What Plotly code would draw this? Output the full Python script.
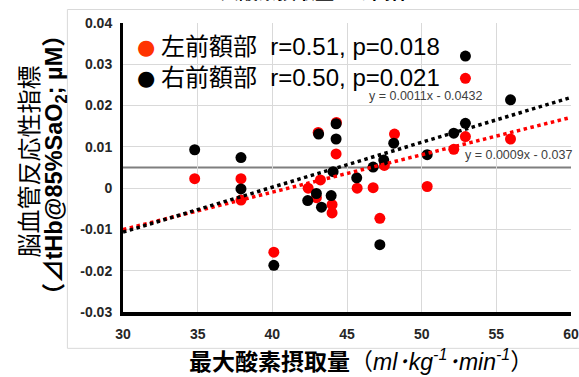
import numpy as np
import plotly.graph_objects as go

# ---- data ----
x_left = [34.8, 37.9, 37.9, 40.1, 42.4, 42.95, 43.07, 43.22, 44.0, 44.0, 44.27,
          44.29, 45.68, 46.75, 47.2, 47.5, 48.18, 50.37, 52.15, 52.93, 52.93, 55.95]
y_left = [0.0023, 0.0023, -0.0029, -0.0155, 0.0, -0.0023, 0.0135, 0.0020, -0.0040,
          -0.0060, 0.0083, 0.0159, 0.0, 0.0001, -0.0073, 0.0055, 0.0131, 0.0004,
          0.0094, 0.0125, 0.0266, 0.0119]

x_right = [34.8, 37.9, 37.9, 40.1, 42.37, 42.95, 43.1, 43.29, 43.94, 44.07, 44.27,
           44.27, 45.65, 46.75, 47.2, 47.46, 48.13, 50.37, 52.15, 52.93, 52.93, 55.95]
y_right = [0.0093, 0.0074, -0.0002, -0.0187, -0.0030, -0.0013, 0.0131, -0.0046,
           -0.0018, 0.0040, 0.0156, 0.0119, 0.0025, 0.0051, -0.0137, 0.0068, 0.0109,
           0.0081, 0.0133, 0.0157, 0.0320, 0.0214]

ref_level = 0.005

x_range = [30, 60]
y_range = [-0.03, 0.04]
x_ticks = [30, 35, 40, 45, 50, 55, 60]
x_tick_labels = ["30", "35", "40", "45", "50", "55", "60"]
y_ticks = [-0.03, -0.02, -0.01, 0, 0.01, 0.02, 0.03, 0.04]
y_tick_labels = ["-0.03", "-0.02", "-0.01", "0", "0.01", "0.02", "0.03", "0.04"]

legend_left = "左前額部  r=0.51, p=0.018"
legend_right = "右前額部  r=0.50, p=0.021"
eq_right_text = "y = 0.0011x - 0.0432"
eq_left_text = "y = 0.0009x - 0.037"
title_text = "大酸素摂取量との関係"
x_title_main = "最大酸素摂取量"
y_title_1 = "脳血管反応性指標"
y_title_2 = "（⊿tHb@85%SaO<sub>2</sub>; µM）"

# ---- layout geometry ----
W, H = 579, 377
L, R, T, B = 122.6, 570.6, 23.0, 311.7
PW, PH = R - L, B - T


def px(x):
    return (x - L) / PW


def py(y):
    return (B - y) / PH


RED = "#FF0000"
LEG_RED = "#FF3300"
SANS = "Liberation Sans, Arial, Noto Sans CJK JP, sans-serif"
CJK = "Noto Sans CJK JP, sans-serif"

fig = go.Figure()

# markers
fig.add_trace(go.Scatter(x=x_left, y=y_left, mode="markers",
                         marker=dict(color=RED, size=11), showlegend=False))
fig.add_trace(go.Scatter(x=x_right, y=y_right, mode="markers",
                         marker=dict(color="black", size=11), showlegend=False))

# trendlines (least squares from the data, drawn across the x range)
xx = np.array(x_range, dtype=float)
for xs, ys, col in [(x_left, y_left, RED), (x_right, y_right, "black")]:
    k, b = np.polyfit(xs, ys, 1)
    fig.add_trace(go.Scatter(x=xx, y=k * xx + b, mode="lines",
                             line=dict(color=col, width=3.5, dash="3.5px,3.5px"),
                             showlegend=False, hoverinfo="skip"))

# reference level line
fig.add_shape(type="line", xref="paper", yref="y", x0=0, x1=1,
              y0=ref_level, y1=ref_level, line=dict(color="#7f7f7f", width=2),
              layer="below")

# faint chart border
border = "#d9d9d9"
for (x0, y0, x1, y1) in [(67, 9.5, 579, 9.5), (67, 9.5, 67, 348), (67, 348, 579, 348)]:
    fig.add_shape(type="line", xref="paper", yref="paper",
                  x0=px(x0), y0=py(y0), x1=px(x1), y1=py(y1),
                  line=dict(color=border, width=1))

ann = []
# legend-like entries
for yy, col, txt in [(46, LEG_RED, legend_left), (77, "black", legend_right)]:
    ann.append(dict(xref="paper", yref="paper", x=px(146), y=py(yy + 1),
                    xanchor="center", yanchor="middle", showarrow=False,
                    text="●", font=dict(family="DejaVu Sans", size=21, color=col)))
    ann.append(dict(xref="paper", yref="paper", x=px(159), y=py(yy), xanchor="left",
                    yanchor="middle", showarrow=False, text=txt,
                    font=dict(family=SANS, size=24, color="black")))
# equations
ann.append(dict(xref="paper", yref="paper", x=px(367), y=py(96), xanchor="left",
                yanchor="middle", showarrow=False, text=eq_right_text,
                font=dict(family=SANS, size=12.5, color="#404040")))
ann.append(dict(xref="paper", yref="paper", x=px(463), y=py(155), xanchor="left",
                yanchor="middle", showarrow=False, text=eq_left_text,
                font=dict(family=SANS, size=12.5, color="#404040")))
# cut-off title
ann.append(dict(xref="paper", yref="paper", x=px(315), y=py(-9), xanchor="center",
                yanchor="middle", showarrow=False, text=f"<b>{title_text}</b>",
                font=dict(family=CJK, size=19, color="black")))
# x title
ann.append(dict(xref="paper", yref="paper", x=px(361), y=py(360), xanchor="center",
                yanchor="middle", showarrow=False,
                text=(f"<b>{x_title_main}</b>（<i>ml･kg<sup>-1</sup>･min<sup>-1</sup></i>）"),
                font=dict(family=SANS, size=23, color="black")))
# y title
ann.append(dict(xref="paper", yref="paper", x=px(27), y=py(161), xanchor="center",
                yanchor="middle", showarrow=False, textangle=-90,
                text=y_title_1, font=dict(family=CJK, size=24, color="black")))
ann.append(dict(xref="paper", yref="paper", x=px(55), y=py(165), xanchor="center",
                yanchor="middle", showarrow=False, textangle=-90,
                text=f"<b>{y_title_2}</b>", font=dict(family=SANS, size=23.5, color="black")))

fig.update_layout(
    width=W, height=H,
    margin=dict(l=L, r=W - R, t=T, b=H - B, pad=0, autoexpand=False),
    paper_bgcolor="white", plot_bgcolor="white",
    annotations=ann, showlegend=False,
    xaxis=dict(range=x_range, tickvals=x_ticks, ticktext=x_tick_labels,
               automargin=False,
               showgrid=True, gridcolor="#d9d9d9", gridwidth=1, zeroline=False,
               showline=True, linecolor="black", linewidth=4, ticks="",
               ticklabelstandoff=6,
               tickfont=dict(family=SANS, size=14, color="#262626", weight="bold")),
    yaxis=dict(range=y_range, tickvals=y_ticks, ticktext=y_tick_labels,
               automargin=False,
               showgrid=True, gridcolor="#d9d9d9", gridwidth=1, zeroline=False,
               showline=True, linecolor="black", linewidth=3, ticks="",
               ticklabelstandoff=5,
               tickfont=dict(family=SANS, size=14, color="#262626", weight="bold")),
)

fig.write_html("out.html", config={"displayModeBar": False},
               post_script="document.body.style.margin='0';document.body.style.overflow='hidden';")
